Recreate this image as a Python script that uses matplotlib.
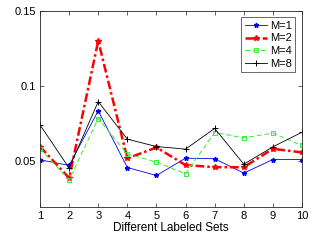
import matplotlib.pyplot as plt
import numpy as np

plt.rcParams["font.family"] = ["Liberation Sans", "DejaVu Sans"]

sets = np.arange(1, 11)
m1 = [0.0511, 0.0474, 0.0836, 0.0460, 0.0407, 0.0522, 0.0518, 0.0423, 0.0513, 0.0513]
m2 = [0.0599, 0.0390, 0.1300, 0.0520, 0.0593, 0.0476, 0.0462, 0.0462, 0.0584, 0.0560]
m4 = [0.0584, 0.0379, 0.0785, 0.0549, 0.0496, 0.0418, 0.0692, 0.0657, 0.0688, 0.0606]
m8 = [0.0743, 0.0456, 0.0897, 0.0648, 0.0599, 0.0582, 0.0719, 0.0482, 0.0597, 0.0694]

fig = plt.figure(figsize=(3.27, 2.46), dpi=100)
ax = fig.add_axes([40 / 327, 1 - 206.7 / 246, 262 / 327, 196 / 246])

ax.plot(sets, m1, color="blue", lw=0.6, marker="*", ms=3.5, label="M=1")
ax.plot(sets, m2, color="red", lw=1.8, dashes=(3.5, 1.2, 1, 1.2), marker="*", ms=4,
        label="M=2")
ax.plot(sets, m4, color="#33ee33", lw=0.7, dashes=(5, 3), marker="s", ms=3.5,
        mfc="none", mew=0.7, label="M=4")
ax.plot(sets, m8, color="black", lw=0.6, marker="+", ms=4.5, mew=0.7, label="M=8")

ax.set_xlim(1, 10)
ax.set_ylim(0.02, 0.15)
ax.set_xticks(sets)
ax.set_yticks([0.05, 0.1, 0.15])
ax.set_yticklabels(["0.05", "0.1", "0.15"])
ax.tick_params(direction="in", top=True, right=True, labelsize=8, length=3,
               width=0.5, color="#262626", pad=3)
for s in ax.spines.values():
    s.set_linewidth(0.6)
    s.set_color("#262626")
ax.set_xlabel("Different Labeled Sets", fontsize=8.5, labelpad=1)

leg = ax.legend(loc="upper right", fontsize=8, frameon=True, fancybox=False,
                edgecolor="#262626", handlelength=2.0, handletextpad=0.3,
                borderpad=0.3, labelspacing=0.25, borderaxespad=0.6)
leg.get_frame().set_linewidth(0.6)

fig.savefig("out.png", dpi=100)
